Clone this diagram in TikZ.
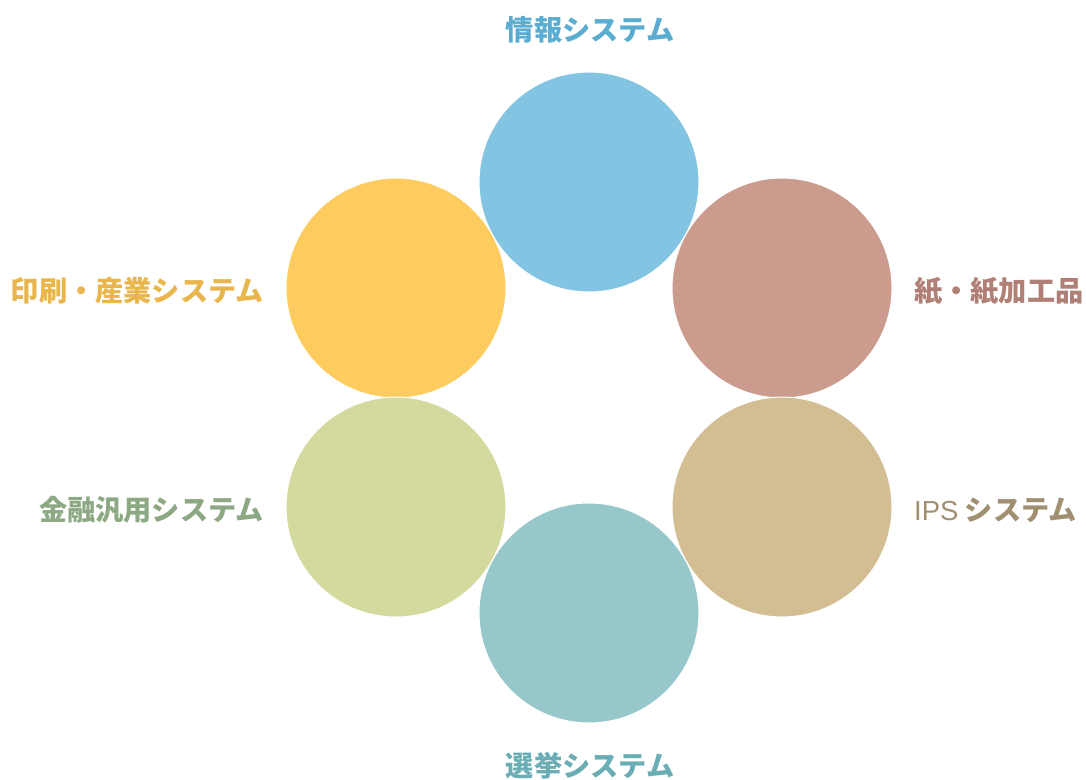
\documentclass[tikz,border=0pt]{standalone}
\usepackage{fontspec}
\usepackage{tikz}
\usetikzlibrary{positioning}
\newfontfamily\cjk{Noto Sans CJK JP}
\newfontfamily\latn{Liberation Sans}
\definecolor{infoFill}{HTML}{82C4E1}
\definecolor{paperFill}{HTML}{CB9C8E}
\definecolor{printFill}{HTML}{FECB5E}
\definecolor{bankFill}{HTML}{D4D99E}
\definecolor{ipsFill}{HTML}{D3BE93}
\definecolor{voteFill}{HTML}{96C7CA}
\definecolor{infoText}{HTML}{5AADD0}
\definecolor{paperText}{HTML}{B07F76}
\definecolor{printText}{HTML}{E8B64C}
\definecolor{bankText}{HTML}{8CA983}
\definecolor{ipsText}{HTML}{A08F70}
\definecolor{voteText}{HTML}{6BADB5}
\tikzstyle{petal}=[circle,draw=white,line width=1pt,minimum size=220pt,inner sep=0pt]
\tikzstyle{tag}=[inner sep=0pt,font=\cjk\bfseries\fontsize{28.2}{31}\selectfont]
\newcommand{\newPetal}[3]{\node[petal,fill=#3](#1) at (#2) {};}
\newcommand{\newTag}[4]{\node[tag,text=#4,#3](#1){#2};}

\begin{document}
\begin{tikzpicture}[x=1pt,y=-1pt]
  \useasboundingbox (0,0) rectangle (1086,779);
  % circles
  \newPetal{info}{589,182}{infoFill}
  \newPetal{paper}{782,288}{paperFill}
  \newPetal{print}{396,288}{printFill}
  \newPetal{bank}{396,507}{bankFill}
  \newPetal{ips}{782,507}{ipsFill}
  \newPetal{vote}{589,613}{voteFill}
  % labels
  \newTag{infoT}{情報システム}{at={(590,30)}}{infoText}
  \newTag{paperT}{紙・紙加工品}{anchor=west,at={(914,291)}}{paperText}
  \newTag{printT}{印刷・産業システム}{anchor=east,at={(264,291)}}{printText}
  \newTag{bankT}{金融汎用システム}{anchor=east,at={(264,510)}}{bankText}
  \newTag{ipsT}{{\latn\mdseries\fontsize{27.5}{30}\selectfont IPS} システム}{anchor=west,at={(914,510)}}{ipsText}
  \newTag{voteT}{選挙システム}{at={(590,766)}}{voteText}
\end{tikzpicture}
\end{document}
